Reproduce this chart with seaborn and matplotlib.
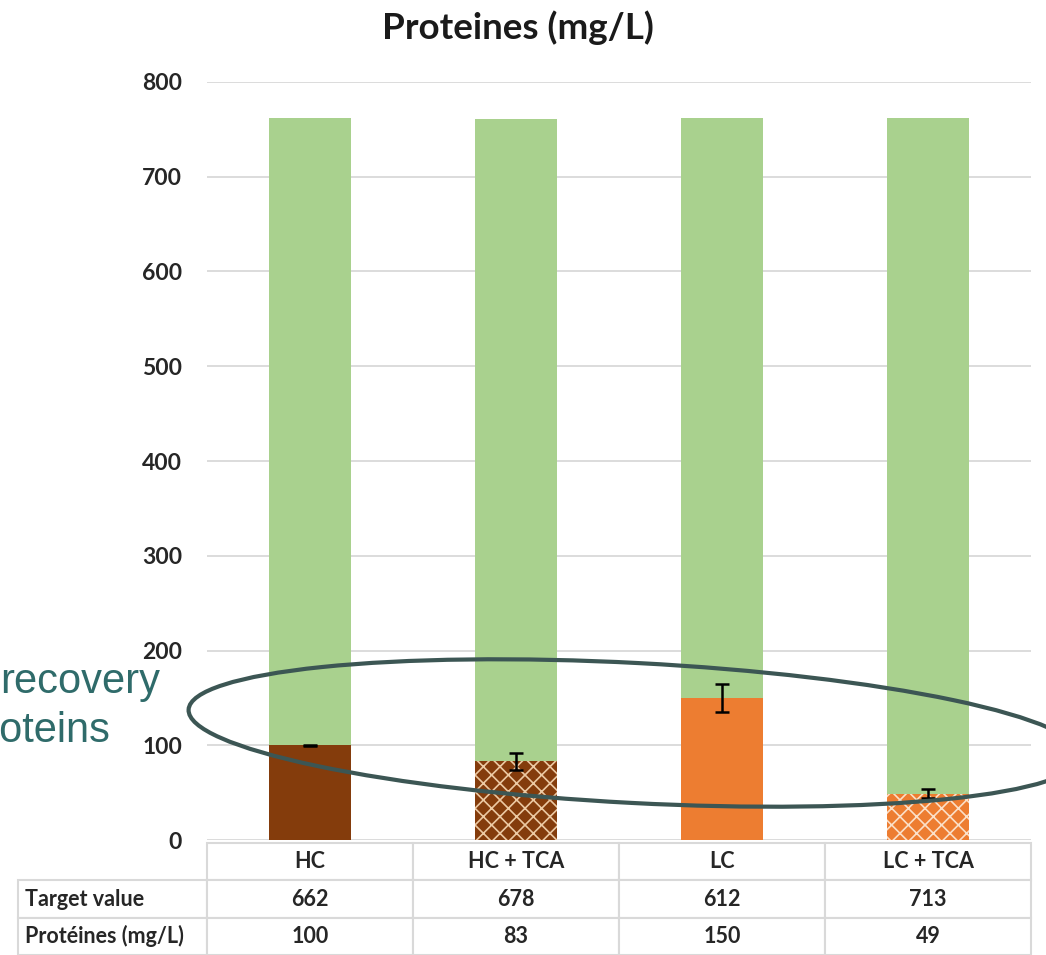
import matplotlib
matplotlib.use("Agg")
import matplotlib.pyplot as plt
from matplotlib.patches import Ellipse
import seaborn as sns
import pandas as pd

categories = ["HC", "HC + TCA", "LC", "LC + TCA"]
target_value = [662, 678, 612, 713]
proteines = [100, 83, 150, 49]
proteines_err = [0.6, 9, 15, 5]
row_labels = ["Target value", "Protéines (mg/L)"]

green = "#a9d18e"
bottom_colors = ["#843c0c", "#843c0c", "#ed7d31", "#ed7d31"]
hatches = ["", "xx", "", "xx"]
hatch_colors = ["#843c0c", "#ecc9a3", "#ed7d31", "#fbe0c8"]

sns.set_theme(style="white")
plt.rcParams["font.family"] = ["Lato", "DejaVu Sans"]
plt.rcParams["hatch.linewidth"] = 1.2

df = pd.DataFrame({"cat": categories, "target": target_value, "prot": proteines})
df["total"] = df["target"] + df["prot"]

fig = plt.figure(figsize=(10.46, 9.55), dpi=100)
ax = fig.add_axes([207 / 1046, 1 - 840 / 955, (1031 - 207) / 1046, (840 - 82) / 955])

sns.barplot(data=df, x="cat", y="total", color=green, width=0.4, ax=ax,
            saturation=1, linewidth=0)
sns.barplot(data=df, x="cat", y="prot", hue="cat", palette=bottom_colors,
            width=0.4, ax=ax, saturation=1, linewidth=0, legend=False)

bottom_bars = [p for c in ax.containers[1:] for p in c]
for bar, h, hc in zip(bottom_bars, hatches, hatch_colors):
    if h:
        bar.set_hatch(h)
        bar.set_edgecolor(hc)
        bar.set_linewidth(0)

ax.errorbar(x=range(len(categories)), y=proteines, yerr=proteines_err, fmt="none",
            ecolor="black", elinewidth=1.8, capsize=5, capthick=1.8, zorder=5)

ax.set_ylim(0, 800)
ax.set_xlim(-0.5, 3.5)
ax.set_yticks(range(0, 801, 100))
ax.yaxis.grid(True, color="#d9d9d9", linewidth=1.3)
ax.set_axisbelow(True)
for s in ax.spines.values():
    s.set_visible(False)
ax.tick_params(axis="y", length=0, pad=18, labelsize=16.5)
for lbl in ax.get_yticklabels():
    lbl.set_fontweight("bold")
    lbl.set_color("#262626")
ax.set_xticks([])
ax.set_xlabel("")
ax.set_ylabel("")

# data table
cell_text = [[""] + categories,
             [row_labels[0]] + [str(v) for v in target_value],
             [row_labels[1]] + [str(v) for v in proteines]]
axh = 840 - 82
x0 = (18 - 207) / 824
bbox = [x0, -(955 - 840) / axh, (1031 - 18) / 824, (955 - 843) / axh]
tab = ax.table(cellText=cell_text, colWidths=[189, 206, 206, 206, 206],
               cellLoc="center", bbox=bbox)
tab.auto_set_font_size(False)
tab.set_fontsize(15.5)
for (r, c), cell in tab.get_celld().items():
    cell.set_edgecolor("#d9d9d9")
    cell.set_linewidth(1.5)
    cell.get_text().set_fontweight("bold")
    cell.get_text().set_color("#262626")
    if c == 0:
        cell.get_text().set_ha("left")
        cell.PAD = 0.035
    if r == 0 and c == 0:
        cell.visible_edges = "open"

fig.suptitle("Proteines (mg/L)", x=0.495, y=1 - 28 / 955, va="center",
             fontsize=26.5, fontweight="bold", color="#1a1a1a")

# annotation
ell = Ellipse((6.35, (955 - 733) / 100), width=8.94, height=1.40, angle=-3,
              transform=fig.dpi_scale_trans, fill=False, edgecolor="#3c5654",
              linewidth=3)
fig.add_artist(ell)
fig.text(0, 1 - 693 / 955, "recovery", ha="left", va="baseline", fontsize=30,
         color="#2f6b6a", family=["Liberation Sans", "DejaVu Sans"])
fig.text(110 / 1046, 1 - 742 / 955, "proteins", ha="right", va="baseline", fontsize=30,
         color="#2f6b6a", family=["Liberation Sans", "DejaVu Sans"])

fig.savefig("out.png", dpi=100)
